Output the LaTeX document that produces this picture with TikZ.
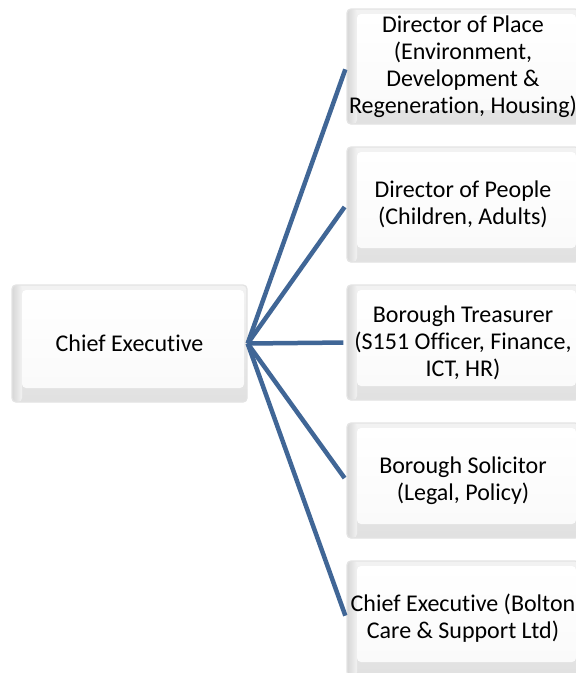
\documentclass[tikz,border=0pt]{standalone}
\usepackage{fontspec}
\setmainfont{Carlito}[Ligatures=NoCommon]
\usetikzlibrary{calc}

\definecolor{linkblue}{RGB}{64,102,150}

\begin{document}
\begin{tikzpicture}[x=1pt,y=-1pt, link/.style = {draw=linkblue, line width=4.5pt},
		post/.style={draw=gray!22, line width=1.3pt, rounded corners=4pt, align=center,
		minimum width=232pt, minimum height=115pt, inner sep=1pt,
		font=\fontsize{24}{27}\selectfont,
		path picture={
			\coordinate (sw) at (path picture bounding box.south west);
			\coordinate (ne) at (path picture bounding box.north east);
			\shade[top color=gray!10, bottom color=gray!24] (sw) rectangle (ne);
			\shade[left color=gray!32, right color=gray!10] (sw) rectangle ($(sw|-ne)+(10pt,0)$);
			\shade[top color=white, bottom color=gray!4] ($(sw)+(10pt,14pt)$) rectangle ($(ne)+(-3pt,-5pt)$);
		}}] 
		
		\useasboundingbox (0,0) rectangle (576,673);

		% boxes
		\node[post, minimum width=235pt, minimum height=117pt] (ce) at (129.5,343.5) {Chief Executive};
		\node[post] (place) at (463,66.5) {Director of Place\\(Environment,\\Development \&\\Regeneration, Housing)};
		\node[post] (people) at (463,204.5) {Director of People\\(Children, Adults)};
		\node[post] (treas) at (463,342.5) {Borough Treasurer\\(S151 Officer, Finance,\\ICT, HR)};
		\node[post] (solic) at (463,480.5) {Borough Solicitor\\(Legal, Policy)};
		\node[post] (care) at (463,618.5) {Chief Executive (Bolton\\Care \& Support Ltd)};

		% links
		\draw[link, shorten >=3pt] (ce.east) -- (place.west);
		\draw[link, shorten >=3pt] (ce.east) -- (people.west);
		\draw[link, shorten >=3pt] (ce.east) -- (treas.west);
		\draw[link, shorten >=3pt] (ce.east) -- (solic.west);
		\draw[link, shorten >=3pt] (ce.east) -- (care.west);

	\end{tikzpicture}
\end{document}
